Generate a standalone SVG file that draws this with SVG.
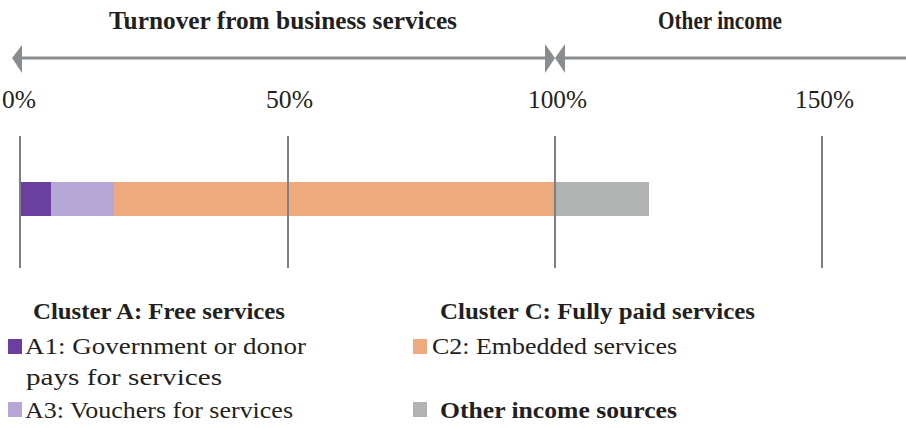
<svg xmlns="http://www.w3.org/2000/svg" width="906" height="428" viewBox="0 0 906 428">
<style>
text{font-family:"Liberation Serif","Times New Roman",serif;fill:#231f20}
.h{font-weight:bold;font-size:25px}
.t{font-size:25px}
.l{font-size:24px}
.lb{font-size:24px;font-weight:bold}
.axis{stroke:#8a8d90;stroke-width:3;fill:none}
.grid{stroke:#7d8084;stroke-width:2}
.ah{fill:#8a8d90}
</style>
<rect width="906" height="428" fill="#ffffff"/>
<g id="connectors">
<line class="axis" x1="16" y1="58" x2="550" y2="58"/>
<line class="axis" x1="560" y1="58" x2="906" y2="58"/>
<polygon class="ah" points="12,58 22,45 22,73"/>
<polygon class="ah" points="555,58 545,44 545,73"/>
<polygon class="ah" points="555,58 565,44 565,73"/>
</g>
<g id="header-turnover"><text class="h" x="109" y="29" textLength="348" lengthAdjust="spacingAndGlyphs">Turnover from business services</text></g>
<g id="header-other"><text class="h" x="658" y="29" textLength="124" lengthAdjust="spacingAndGlyphs">Other income</text></g>
<g id="ticks">
<text class="t" x="2" y="108" textLength="34" lengthAdjust="spacingAndGlyphs">0%</text>
<text class="t" x="266" y="108" textLength="47" lengthAdjust="spacingAndGlyphs">50%</text>
<text class="t" x="528" y="108" textLength="59" lengthAdjust="spacingAndGlyphs">100%</text>
<text class="t" x="795" y="108" textLength="59" lengthAdjust="spacingAndGlyphs">150%</text>
</g>
<g id="bar">
<rect x="20" y="182" width="31" height="34" fill="#6b3fa0"/>
<rect x="51" y="182" width="63" height="34" fill="#b6a7d4"/>
<rect x="114" y="182" width="441" height="34" fill="#eea97c"/>
<rect x="555" y="182" width="94" height="34" fill="#b1b2b2"/>
</g>
<g id="gridlines">
<line class="grid" x1="20" y1="136" x2="20" y2="268"/>
<line class="grid" x1="288" y1="136" x2="288" y2="268"/>
<line class="grid" x1="555" y1="136" x2="555" y2="268"/>
<line class="grid" x1="822" y1="136" x2="822" y2="268"/>
</g>
<g id="legend-a">
<text class="lb" x="33" y="319" textLength="252" lengthAdjust="spacingAndGlyphs">Cluster A: Free services</text>
<rect x="8" y="339" width="14" height="15" fill="#6b3fa0"/>
<text class="l" x="25" y="354" textLength="281" lengthAdjust="spacingAndGlyphs">A1: Government or donor</text>
<text class="l" x="26" y="385" textLength="196" lengthAdjust="spacingAndGlyphs">pays for services</text>
<rect x="8" y="402" width="14" height="15" fill="#b6a7d4"/>
<text class="l" x="25" y="418" textLength="268" lengthAdjust="spacingAndGlyphs">A3: Vouchers for services</text>
</g>
<g id="legend-c">
<text class="lb" x="440" y="319" textLength="315" lengthAdjust="spacingAndGlyphs">Cluster C: Fully paid services</text>
<rect x="413" y="339" width="14" height="15" fill="#eea97c"/>
<text class="l" x="432" y="354" textLength="245" lengthAdjust="spacingAndGlyphs">C2: Embedded services</text>
<rect x="413" y="402" width="14" height="15" fill="#b1b2b2"/>
<text class="lb" x="440" y="418" textLength="237" lengthAdjust="spacingAndGlyphs">Other income sources</text>
</g>
</svg>
